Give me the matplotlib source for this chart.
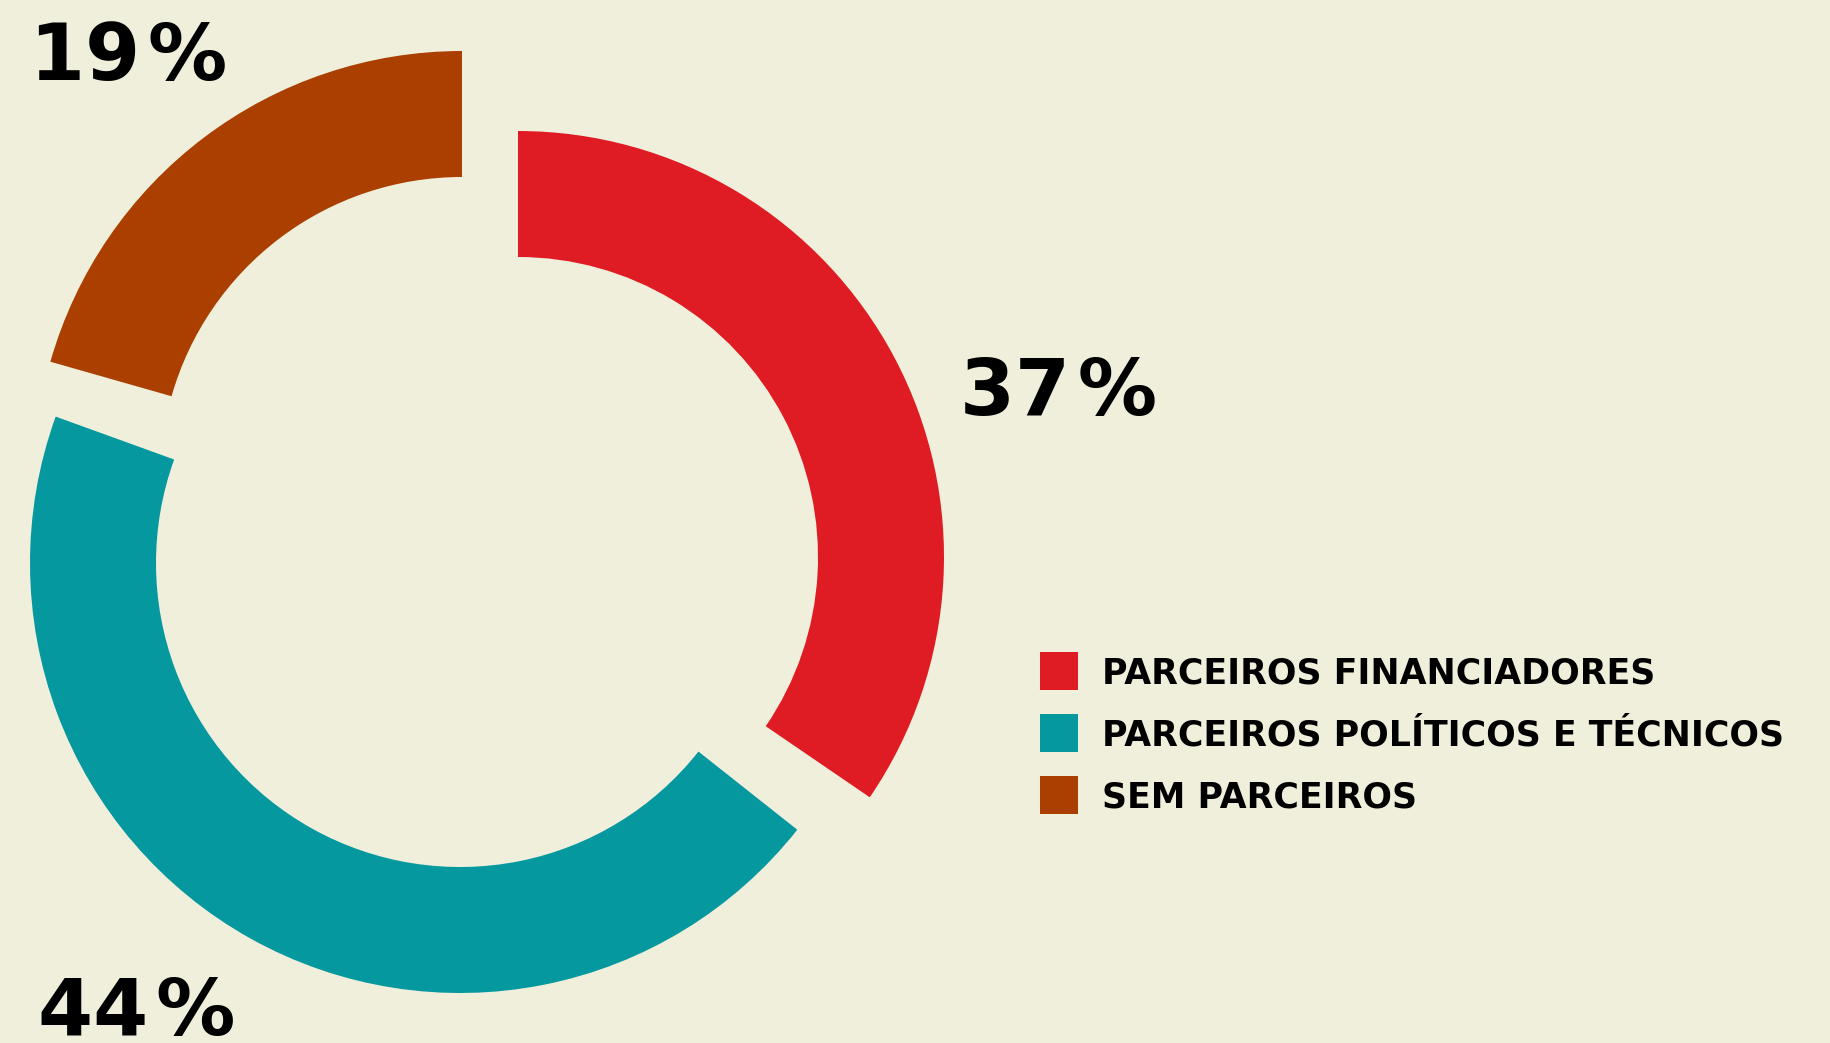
import matplotlib.pyplot as plt
from matplotlib.patches import Wedge, Rectangle

# dados
labels = ["PARCEIROS FINANCIADORES", "PARCEIROS POLÍTICOS E TÉCNICOS", "SEM PARCEIROS"]
percent = [37, 44, 19]            # valores impressos no grafico
arc_share = [34.4, 44.7, 20.5]    # parte do anel que cada arco ocupa no desenho
colors = ["#DF1C24", "#05989F", "#AA3F00"]

W, H = 1830, 1043
bg = "#F0EFDC"

# layout em pixels (y para cima)
centers = [(518, 486), (460, 480), (462, 564)]
radii = [426, 430, 428]
turn = [0, -4.0, 0]
ring = 126
label_pos = [(960, 628), (38, 8), (30, 963)]

fig = plt.figure(figsize=(W / 100, H / 100), dpi=100, facecolor=bg)
ax = fig.add_axes([0, 0, 1, 1])
ax.set_facecolor(bg)
ax.set_xlim(0, W)
ax.set_ylim(0, H)
ax.axis("off")

# aneis: começa no topo e segue no sentido horario
start = 90
for i, share in enumerate(arc_share):
    end = start - 360 * share / sum(arc_share)
    w = Wedge(centers[i], radii[i], end + turn[i], start + turn[i], width=ring,
              facecolor=colors[i], edgecolor="none")
    ax.add_patch(w)
    ax.text(label_pos[i][0], label_pos[i][1], f"{percent[i]}\u200a%", fontsize=57,
            fontweight="bold", family="DejaVu Sans", color="black",
            ha="left", va="baseline")
    start = end

# legenda
for i, lab in enumerate(labels):
    top = 652 + 62 * i
    ax.add_patch(Rectangle((1040, H - top - 38), 38, 38, facecolor=colors[i],
                           edgecolor="none"))
    ax.text(1102, H - top - 32, lab, fontsize=25, fontweight="bold",
            family="DejaVu Sans", color="black", ha="left", va="baseline")

fig.savefig("out.png", dpi=100, facecolor=bg)
